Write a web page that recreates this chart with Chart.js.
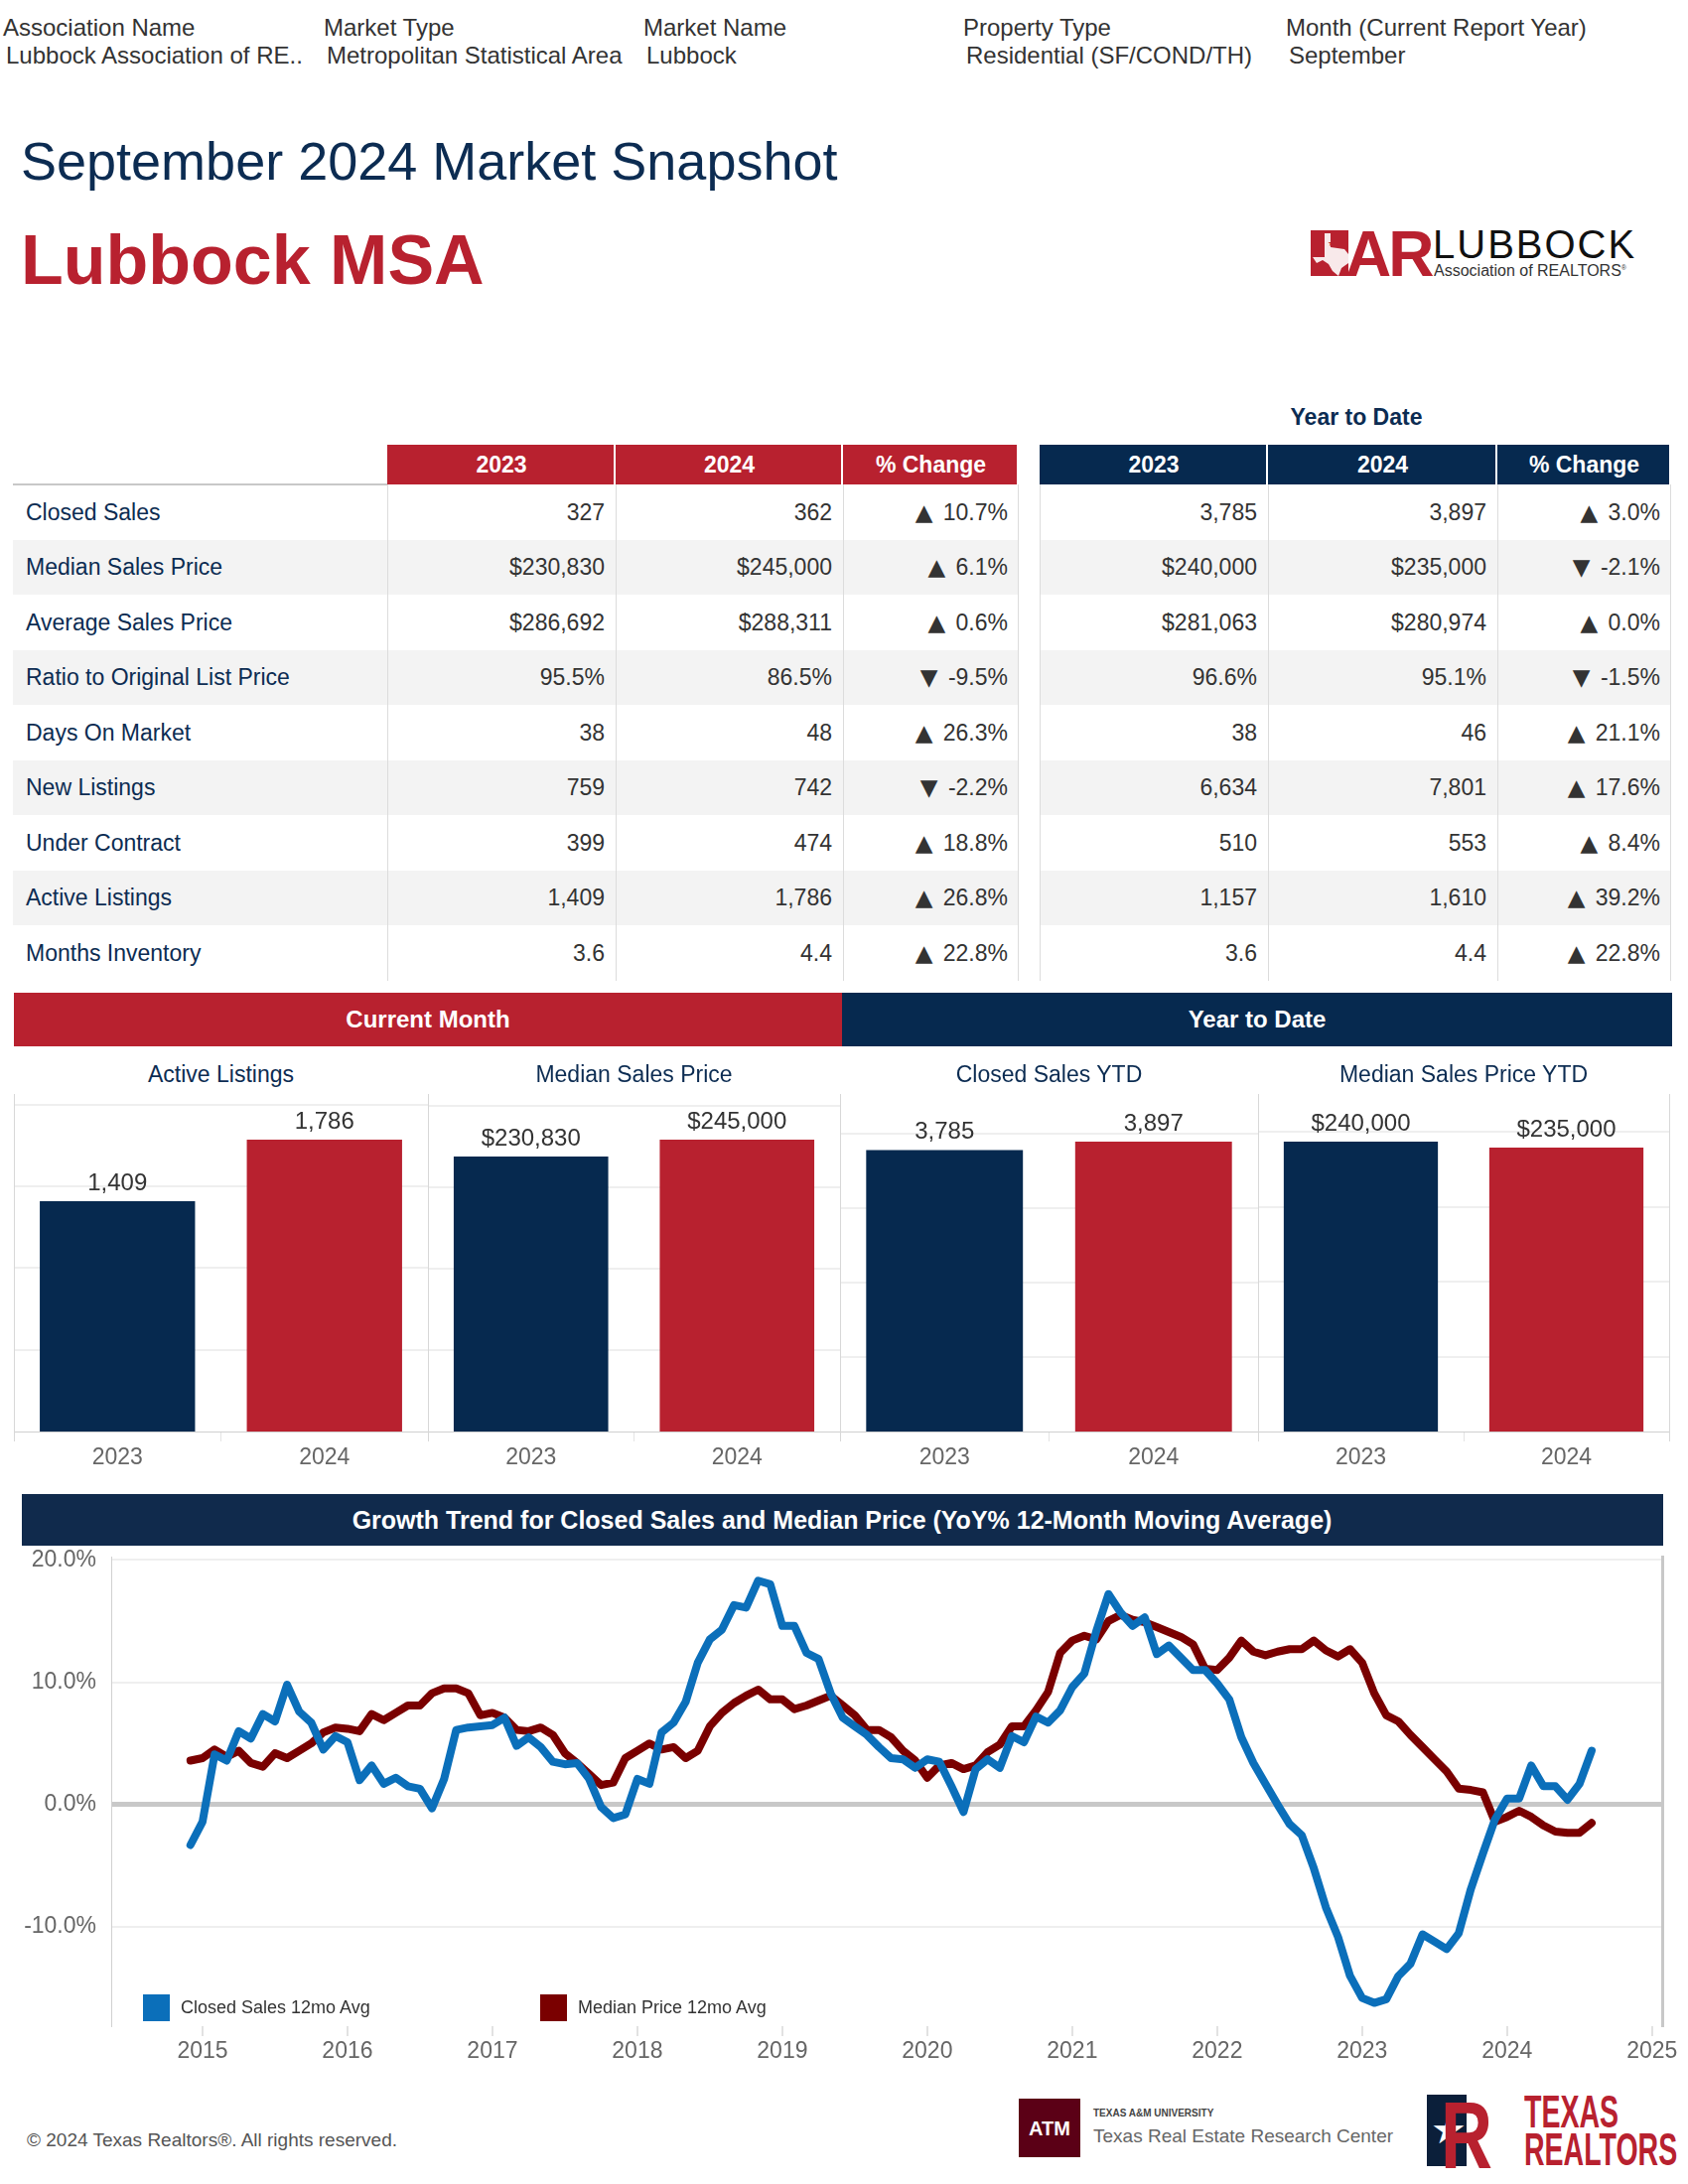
<!DOCTYPE html>
<html>
<head>
<meta charset="utf-8">
<script src="https://cdn.jsdelivr.net/npm/chart.js@4.4.1/dist/chart.umd.min.js"></script>
<style>
  body { margin: 0; background: #fff; }
  #page { position: relative; width: 1700px; height: 2200px; overflow: hidden; font-family: Arial, "Liberation Sans", sans-serif; }
  canvas { position: absolute; }
  .abs { position: absolute; }
  .tri { font-family: "DejaVu Sans", sans-serif; font-size: 1em; margin-right: 4px; }
</style>
</head>
<body>
<div id="page"></div>
<script>
// top filter strip
const filterNames = ['Association Name', 'Market Type', 'Market Name', 'Property Type', 'Month (Current Report Year)'];
const filterValues = ['Lubbock Association of RE..', 'Metropolitan Statistical Area', 'Lubbock', 'Residential (SF/COND/TH)', 'September'];

// summary table
const metricNames = ['Closed Sales', 'Median Sales Price', 'Average Sales Price', 'Ratio to Original List Price',
  'Days On Market', 'New Listings', 'Under Contract', 'Active Listings', 'Months Inventory'];
const month2023 = ['327', '$230,830', '$286,692', '95.5%', '38', '759', '399', '1,409', '3.6'];
const month2024 = ['362', '$245,000', '$288,311', '86.5%', '48', '742', '474', '1,786', '4.4'];
const monthChange = ['▲ 10.7%', '▲ 6.1%', '▲ 0.6%', '▼ -9.5%', '▲ 26.3%', '▼ -2.2%', '▲ 18.8%', '▲ 26.8%', '▲ 22.8%'];
const ytd2023 = ['3,785', '$240,000', '$281,063', '96.6%', '38', '6,634', '510', '1,157', '3.6'];
const ytd2024 = ['3,897', '$235,000', '$280,974', '95.1%', '46', '7,801', '553', '1,610', '4.4'];
const ytdChange = ['▲ 3.0%', '▼ -2.1%', '▲ 0.0%', '▼ -1.5%', '▲ 21.1%', '▲ 17.6%', '▲ 8.4%', '▲ 39.2%', '▲ 22.8%'];

// bar panels
const barYears = ['2023', '2024'];
const barTitles = ['Active Listings', 'Median Sales Price', 'Closed Sales YTD', 'Median Sales Price YTD'];
const activeListings = [1409, 1786];
const medianPrice = [230830, 245000];
const closedSalesYtd = [3785, 3897];
const medianPriceYtd = [240000, 235000];
const barAxisMax = [2065, 283300, 4538, 279450];
const barGridStep = [500, 68330, 1000, 62050];

// growth trend, monthly from Dec 2014 to Aug 2024 (YoY %, 12-month moving average)
const trendStart = 2014 + 11 / 12;
const closedSalesAvg = [
  -3.3, -1.4, 4.1, 3.6, 6.0, 5.4, 7.4, 6.8, 9.8, 7.6, 6.7, 4.5, 5.6,
  5.1, 2.0, 3.2, 1.7, 2.2, 1.5, 1.3, -0.3, 2.1, 6.1, 6.3, 6.4, 6.5,
  7.1, 4.8, 5.5, 4.7, 3.5, 3.3, 3.4, 2.1, -0.2, -1.1, -0.8, 2.1, 1.7,
  5.9, 6.7, 8.4, 11.6, 13.5, 14.3, 16.3, 16.1, 18.3, 18.0, 14.6, 14.6, 12.4,
  11.9, 9.1, 7.1, 6.4, 5.7, 4.7, 3.8, 3.7, 3.0, 3.7, 3.5, 1.5, -0.6,
  2.9, 3.7, 3.0, 5.6, 5.1, 7.2, 6.7, 7.7, 9.6, 10.7, 14.2, 17.2, 15.7,
  14.6, 15.3, 12.3, 13.0, 12.0, 11.0, 11.0, 9.9, 8.6, 5.5, 3.4, 1.7, 0.0,
  -1.6, -2.5, -5.2, -8.4, -10.8, -14.0, -15.8, -16.2, -15.9, -14.0, -13.0, -10.6, -11.2,
  -11.8, -10.5, -6.9, -4.0, -1.2, 0.5, 0.5, 3.2, 1.5, 1.5, 0.4, 1.7, 4.4
];
const medianPriceAvg = [
  3.6, 3.8, 4.5, 3.9, 4.4, 3.4, 3.1, 4.2, 3.8, 4.4, 5.0, 5.9, 6.3,
  6.2, 6.0, 7.4, 6.9, 7.5, 8.1, 8.1, 9.1, 9.5, 9.5, 9.1, 7.3, 7.5,
  7.1, 6.1, 6.0, 6.3, 5.7, 4.2, 3.4, 2.5, 1.6, 1.8, 3.8, 4.4, 5.0,
  4.5, 4.7, 3.8, 4.4, 6.4, 7.5, 8.3, 8.9, 9.4, 8.6, 8.6, 7.8, 8.1,
  8.5, 8.9, 8.1, 7.3, 6.1, 6.1, 5.5, 4.4, 3.6, 2.2, 3.2, 3.4, 2.9,
  3.2, 4.3, 4.9, 6.4, 6.4, 7.7, 9.2, 12.4, 13.4, 13.8, 13.5, 15.0, 15.5,
  15.1, 14.9, 14.5, 14.1, 13.7, 13.1, 11.1, 11.0, 12.0, 13.4, 12.5, 12.2, 12.5,
  12.7, 12.7, 13.4, 12.6, 12.1, 12.7, 11.6, 9.1, 7.3, 6.8, 5.7, 4.7, 3.7,
  2.7, 1.3, 1.2, 1.0, -1.4, -1.0, -0.5, -1.0, -1.7, -2.2, -2.3, -2.3, -1.5
];
const yearTicks = [2015, 2016, 2017, 2018, 2019, 2020, 2021, 2022, 2023, 2024, 2025];
const percentTicks = [-10, 0, 10, 20];

const NAVY = '#06294f';
const RED = '#b8212f';
const FONT = 'Arial, "Liberation Sans", sans-serif';
const page = document.getElementById('page');

function box(x, y, w, h, color) {
  const d = document.createElement('div');
  d.className = 'abs';
  d.style.cssText += `left:${x}px;top:${y}px;width:${w}px;height:${h}px;background:${color};`;
  page.appendChild(d);
  return d;
}

function text(str, x, y, size, color, align = 'left', weight = 'normal') {
  const d = document.createElement('div');
  d.className = 'abs';
  d.textContent = str;
  d.style.cssText += `top:${y - size}px;height:${size * 2}px;line-height:${size * 2}px;font-size:${size}px;color:${color};font-weight:${weight};white-space:nowrap;`;
  if (align === 'left') d.style.left = x + 'px';
  else if (align === 'right') d.style.right = (1700 - x) + 'px';
  else { d.style.left = (x - 700) + 'px'; d.style.width = '1400px'; d.style.textAlign = 'center'; }
  page.appendChild(d);
  return d;
}

function changeText(str, x, y) {
  const d = text('', x, y, 23, '#333', 'right');
  const arrow = document.createElement('span');
  arrow.className = 'tri';
  arrow.textContent = str.slice(0, 1);
  d.appendChild(arrow);
  d.appendChild(document.createTextNode(str.slice(1)));
}

// filters
const filterX = [3, 326, 648, 970, 1295];
filterNames.forEach((n, i) => {
  text(n, filterX[i], 28, 24, '#333');
  text(filterValues[i], filterX[i] + 3, 56, 24, '#333');
});

// titles
text('September 2024 Market Snapshot', 21, 162, 54, '#0c2c52');
text('Lubbock MSA', 21, 262, 70, RED, 'left', 'bold');

// LAR logo
const logo = document.createElement('div');
logo.className = 'abs';
logo.style.cssText += 'left:1320px;top:228px;width:360px;height:56px;';
logo.innerHTML = `
<svg width="40" height="48" style="position:absolute;left:0;top:4px">
  <rect x="0" y="0" width="38" height="46" fill="${RED}"/>
  <polygon points="14,3 20,3 20,17 34,19 38,24 38,33 31,38 28,46 22,41 18,34 12,30 6,33 2,27 14,27" fill="#fff" opacity="0.9"/>
  <text x="17" y="16" font-size="9" fill="${RED}">★</text>
</svg>
<div style="position:absolute;left:35px;top:-9px;font-size:64px;font-weight:900;color:${RED};letter-spacing:-3px">AR</div>
<div style="position:absolute;left:123px;top:-4px;font-size:40px;color:#111;letter-spacing:2px">LUBBOCK</div>
<div style="position:absolute;left:124px;top:36px;font-size:16px;color:#333">Association of REALTORS<sup style="font-size:7px">®</sup></div>`;
page.appendChild(logo);

// summary table
const rowTop = 488, rowH = 55.5;
const leftCols = [390, 620, 849, 1026];
const rightCols = [1047, 1277, 1508, 1683];
text('Year to Date', 1366, 420, 23, '#0c2c52', 'center', 'bold');
[[leftCols, RED], [rightCols, NAVY]].forEach(([cols, color]) => {
  ['2023', '2024', '% Change'].forEach((h, i) => {
    box(cols[i], 448, cols[i + 1] - cols[i] - 2, 40, color);
    text(h, (cols[i] + cols[i + 1]) / 2, 468, 23, '#fff', 'center', 'bold');
  });
});
box(13, 487, 377, 2, '#c8c8c8');
metricNames.forEach((name, r) => {
  const y = rowTop + r * rowH;
  if (r % 2 === 1) {
    box(13, y, 1013, rowH, '#f3f3f3');
    box(1047, y, 636, rowH, '#f3f3f3');
  }
  const cy = y + rowH / 2;
  text(name, 26, cy, 23, '#0c2c52');
  text(month2023[r], 609, cy, 23, '#333', 'right');
  text(month2024[r], 838, cy, 23, '#333', 'right');
  changeText(monthChange[r], 1015, cy);
  text(ytd2023[r], 1266, cy, 23, '#333', 'right');
  text(ytd2024[r], 1497, cy, 23, '#333', 'right');
  changeText(ytdChange[r], 1672, cy);
});
[390, 620, 849, 1025, 1047, 1277, 1508, 1682].forEach(x => box(x, 488, 1, 500, '#dcdcdc'));

// bar section headers
box(14, 1000, 834, 54, RED);
box(848, 1000, 836, 54, NAVY);
text('Current Month', 431, 1027, 24, '#fff', 'center', 'bold');
text('Year to Date', 1266, 1027, 24, '#fff', 'center', 'bold');

Chart.defaults.font.family = FONT;

const barLabels = {
  id: 'barLabels',
  afterDatasetsDraw(chart, args, opts) {
    const ctx = chart.ctx;
    const ds = chart.data.datasets[0];
    ctx.save();
    ctx.font = '24px ' + FONT;
    ctx.fillStyle = '#333';
    ctx.textAlign = 'center';
    ctx.textBaseline = 'middle';
    chart.getDatasetMeta(0).data.forEach((bar, i) => {
      ctx.fillText(opts.prefix + ds.data[i].toLocaleString('en-US'), bar.x, bar.y - 18);
    });
    ctx.restore();
  }
};

const panelX = [14, 431, 846, 1267, 1681];
const panelData = [activeListings, medianPrice, closedSalesYtd, medianPriceYtd];
const panelPrefix = ['', '$', '', '$'];

panelData.forEach((values, i) => {
  const w = panelX[i + 1] - panelX[i];
  text(barTitles[i], panelX[i] + w / 2, 1082, 23, '#0c2c52', 'center');
  const cv = document.createElement('canvas');
  cv.width = w;
  cv.height = 390;
  cv.style.left = panelX[i] + 'px';
  cv.style.top = '1102px';
  page.appendChild(cv);
  new Chart(cv, {
    type: 'bar',
    data: {
      labels: barYears,
      datasets: [{
        data: values,
        backgroundColor: [NAVY, RED],
        categoryPercentage: 0.75,
        barPercentage: 1
      }]
    },
    options: {
      responsive: false,
      animation: false,
      layout: { padding: 0 },
      plugins: {
        legend: { display: false },
        tooltip: { enabled: false },
        barLabels: { prefix: panelPrefix[i] }
      },
      scales: {
        x: {
          grid: { display: true, drawOnChartArea: false, tickLength: 10, color: '#e4e4e4' },
          border: { color: '#cfcfcf', dash: [2, 2] },
          ticks: { font: { size: 23 }, color: '#666', padding: 3 },
          afterFit: s => { s.height = 50; }
        },
        y: {
          min: 0,
          max: barAxisMax[i],
          afterBuildTicks: s => {
            s.ticks = [1, 2, 3, 4].map(k => ({ value: k * barGridStep[i] }));
          },
          ticks: { display: false },
          grid: { color: '#efefef', lineWidth: 2, drawTicks: false },
          border: { display: false },
          afterFit: s => { s.width = 0; }
        }
      }
    },
    plugins: [barLabels]
  });
});
panelX.forEach(x => box(x, 1102, 1, 350, '#d8d8d8'));

// growth trend
box(22, 1505, 1653, 52, '#102a4c');
text('Growth Trend for Closed Sales and Median Price (YoY% 12-Month Moving Average)', 848, 1531, 25, '#fff', 'center', 'bold');

const trendCanvas = document.createElement('canvas');
trendCanvas.width = 1700;
trendCanvas.height = 547;
trendCanvas.style.left = '0px';
trendCanvas.style.top = '1540px';
page.appendChild(trendCanvas);

new Chart(trendCanvas, {
  type: 'line',
  data: {
    datasets: [
      {
        label: 'Closed Sales 12mo Avg',
        data: closedSalesAvg.map((v, i) => ({ x: trendStart + i / 12, y: v })),
        borderColor: '#0b6fba',
        borderWidth: 8,
        pointRadius: 0,
        tension: 0,
        borderCapStyle: 'round',
        borderJoinStyle: 'round'
      },
      {
        label: 'Median Price 12mo Avg',
        data: medianPriceAvg.map((v, i) => ({ x: trendStart + i / 12, y: v })),
        borderColor: '#7a0000',
        borderWidth: 8,
        pointRadius: 0,
        tension: 0,
        borderCapStyle: 'round',
        borderJoinStyle: 'round'
      }
    ]
  },
  options: {
    responsive: false,
    animation: false,
    layout: { padding: { top: 24, right: 26, left: 0, bottom: 0 } },
    plugins: { legend: { display: false }, tooltip: { enabled: false } },
    scales: {
      x: {
        type: 'linear',
        min: 2014.37,
        max: 2025.07,
        afterBuildTicks: s => { s.ticks = yearTicks.map(v => ({ value: v })); },
        ticks: { font: { size: 23 }, color: '#666', padding: 2, maxRotation: 0, autoSkip: false, callback: v => String(v) },
        grid: { display: true, drawOnChartArea: false, tickLength: 10, color: '#e2e2e2', lineWidth: 2 },
        border: { display: false },
        afterFit: s => { s.height = 46; }
      },
      y: {
        min: -18.1,
        max: 20.2,
        afterBuildTicks: s => { s.ticks = percentTicks.map(v => ({ value: v })); },
        ticks: { font: { size: 23 }, color: '#666', padding: 15, callback: v => v.toFixed(1) + '%' },
        grid: {
          drawTicks: false,
          color: c => (c.tick && c.tick.value === 0 ? '#c8c8c8' : '#efefef'),
          lineWidth: c => (c.tick && c.tick.value === 0 ? 5 : 2)
        },
        border: { color: '#d0d0d0', width: 1 },
        afterFit: s => { s.width = 112; }
      },
      y2: {
        position: 'right',
        min: -18.1,
        max: 20.2,
        ticks: { display: false },
        grid: { display: false },
        border: { color: '#c8c8c8', width: 3 },
        afterFit: s => { s.width = 0; }
      }
    }
  }
});

// legend
box(144, 2009, 27, 27, '#0b6fba');
text('Closed Sales 12mo Avg', 182, 2022, 18, '#333');
box(544, 2009, 27, 27, '#7a0000');
text('Median Price 12mo Avg', 582, 2022, 18, '#333');

// footer
text('© 2024 Texas Realtors®. All rights reserved.', 27, 2156, 19, '#555');
box(1026, 2114, 62, 59, '#5b0016');
text('ATM', 1057, 2144, 20, '#fff', 'center', 'bold');
text('TEXAS A&M UNIVERSITY', 1101, 2129, 10, '#444', 'left', 'bold');
text('Texas Real Estate Research Center', 1101, 2152, 19, '#666');
const tr = document.createElement('div');
tr.className = 'abs';
tr.style.cssText += 'left:1437px;top:2108px;width:260px;height:78px;';
tr.innerHTML = `
<div style="position:absolute;left:0;top:2px;width:40px;height:72px;background:#0b1f3a"></div>
<div style="position:absolute;left:4px;top:14px;font-size:40px;color:#fff">★</div>
<div style="position:absolute;left:14px;top:-12px;font-size:96px;font-weight:bold;color:${RED};transform:scaleX(0.75);transform-origin:left">R</div>
<div style="position:absolute;left:98px;top:-4px;font-size:46px;font-weight:bold;color:${RED};transform:scaleX(0.62);transform-origin:left;line-height:46px">TEXAS</div>
<div style="position:absolute;left:98px;top:34px;font-size:46px;font-weight:bold;color:${RED};transform:scaleX(0.62);transform-origin:left;line-height:46px">REALTORS</div>`;
page.appendChild(tr);
</script>
</body>
</html>
